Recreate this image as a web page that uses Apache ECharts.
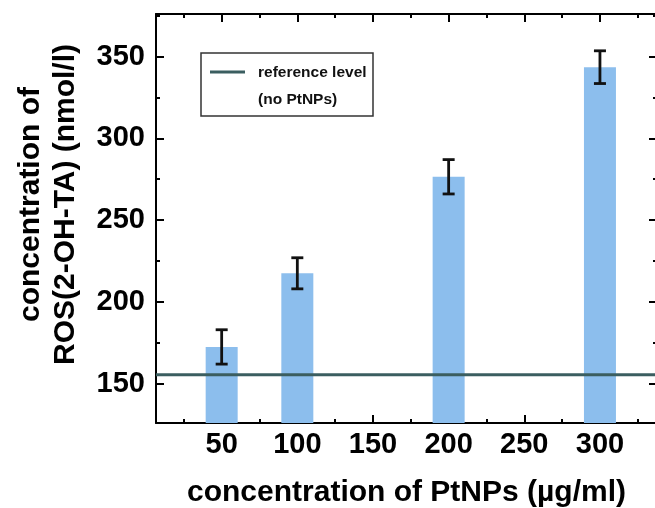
<!DOCTYPE html>
<html>
<head>
<meta charset="utf-8">
<script src="https://cdn.jsdelivr.net/npm/echarts@6/dist/echarts.min.js"></script>
<style>
  html, body { margin: 0; padding: 0; background: #fff; }
  #chart { width: 655px; height: 508px; }
</style>
</head>
<body>
<div id="chart"></div>
<script>
// concentration of PtNPs (µg/ml)
const doses = [50, 100, 200, 300]
// ROS(2-OH-TA) concentration (nmol/l) and error
const rosMean = [172.5, 217.5, 276.5, 343.5]
const rosErr = [10.5, 9.5, 10.5, 10]
// reference level without PtNPs
const referenceLevel = 155.5
const xRange = [6.6, 337.7]
const yRange = [126, 376]

const chart = echarts.init(document.getElementById('chart'))
const fontFamily = '"Liberation Sans", Arial, sans-serif'
const black = '#000'
const refColor = '#3b5e60'

// shared axis look, ticks pointing inside like Origin
function frameAxis (extra) {
  return Object.assign({
    type: 'value',
    axisLine: { show: true, onZero: false, lineStyle: { color: black, width: 2 } },
    axisTick: { show: true, inside: true, length: 8, lineStyle: { color: black, width: 2 } },
    minorTick: { show: true, splitNumber: 2, length: 4, lineStyle: { color: black, width: 2 } },
    splitLine: { show: false },
    minorSplitLine: { show: false }
  }, extra)
}

const labelStyle = {
  showMinLabel: false,
  showMaxLabel: false,
  color: black,
  fontFamily: fontFamily,
  fontWeight: 'bold',
  fontSize: 29
}
const nameStyle = {
  color: black,
  fontFamily: fontFamily,
  fontWeight: 'bold',
  fontSize: 30,
  lineHeight: 35
}
const legendFont = 'bold 15.5px ' + fontFamily

const option = {
  animation: false,
  grid: { left: 156, top: 14, width: 501, height: 409, containLabel: false, outerBoundsMode: 'none' },
  xAxis: [
    frameAxis({
      position: 'bottom',
      min: xRange[0],
      max: xRange[1],
      axisLabel: Object.assign({ margin: 7 }, labelStyle),
      name: 'concentration of PtNPs (µg/ml)',
      nameLocation: 'middle',
      nameGap: 52,
      nameTextStyle: nameStyle
    }),
    frameAxis({
      position: 'top',
      min: xRange[0],
      max: xRange[1],
      axisLabel: { show: false }
    })
  ],
  yAxis: [
    frameAxis({
      position: 'left',
      min: yRange[0],
      max: yRange[1],
      axisLabel: Object.assign({ margin: 11 }, labelStyle),
      name: 'concentration of\nROS(2-OH-TA) (nmol/l)',
      nameLocation: 'middle',
      nameGap: 73,
      nameTextStyle: Object.assign({ padding: [0, 0, 0, 28] }, nameStyle)
    }),
    frameAxis({
      position: 'right',
      min: yRange[0],
      max: yRange[1],
      axisLabel: { show: false }
    })
  ],
  graphic: [
    {
      type: 'rect',
      shape: { x: 201, y: 53, width: 172, height: 63 },
      style: { fill: '#fff', stroke: '#333', lineWidth: 1.5 },
      z: 100
    },
    {
      type: 'line',
      shape: { x1: 210, y1: 72, x2: 245, y2: 72 },
      style: { stroke: refColor, lineWidth: 3 },
      z: 101
    },
    {
      type: 'text',
      x: 258,
      y: 73,
      style: { text: 'reference level', fill: '#111', font: legendFont, verticalAlign: 'middle' },
      z: 101
    },
    {
      type: 'text',
      x: 258,
      y: 100,
      style: { text: '(no PtNPs)', fill: '#111', font: legendFont, verticalAlign: 'middle' },
      z: 101
    }
  ],
  series: [
    {
      name: 'ROS',
      type: 'bar',
      barWidth: 32,
      itemStyle: { color: '#8cbeed' },
      data: doses.map((d, i) => [d, rosMean[i]]),
      z: 2
    },
    {
      name: 'reference level',
      type: 'line',
      symbol: 'none',
      lineStyle: { color: refColor, width: 3 },
      data: [[xRange[0], referenceLevel], [xRange[1], referenceLevel]],
      z: 3
    },
    {
      name: 'error',
      type: 'custom',
      data: doses.map((d, i) => [d, rosMean[i] - rosErr[i], rosMean[i] + rosErr[i]]),
      renderItem: function (params, api) {
        const x = api.value(0)
        const lo = api.coord([x, api.value(1)])
        const hi = api.coord([x, api.value(2)])
        const half = 6
        const style = { stroke: '#111', lineWidth: 2.8 }
        return {
          type: 'group',
          children: [
            { type: 'line', shape: { x1: hi[0], y1: hi[1], x2: lo[0], y2: lo[1] }, style: style },
            { type: 'line', shape: { x1: hi[0] - half, y1: hi[1], x2: hi[0] + half, y2: hi[1] }, style: style },
            { type: 'line', shape: { x1: lo[0] - half, y1: lo[1], x2: lo[0] + half, y2: lo[1] }, style: style }
          ]
        }
      },
      z: 4
    }
  ]
}

chart.setOption(option)
</script>
</body>
</html>
